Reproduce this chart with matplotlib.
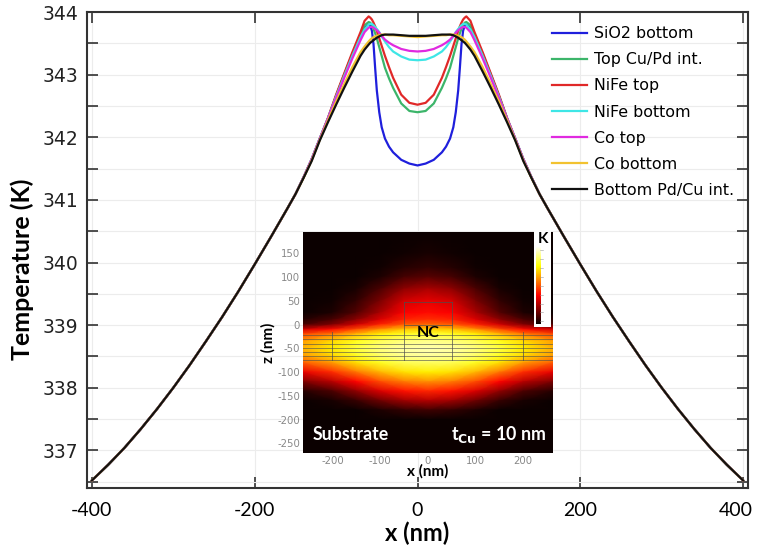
import numpy as np
import matplotlib
matplotlib.use("Agg")
import matplotlib.pyplot as plt
from matplotlib.ticker import MultipleLocator
from matplotlib.transforms import ScaledTranslation

plt.rcParams["axes.unicode_minus"] = False

# ---- temperature profiles (symmetric about x = 0, half profile given) ----
inner_x = [0, 10, 20, 30, 35, 40, 44, 47, 50, 52, 54, 56, 58, 60, 65, 70,
           80, 90, 100, 110, 120, 130, 140]
outer_x = [150, 160, 180, 200, 220, 240, 260, 280, 300, 320, 340, 360, 380,
           400]
outer_T = [341.09, 340.86, 340.41, 339.97, 339.54, 339.13, 338.74, 338.36,
           338.00, 337.66, 337.34, 337.04, 336.77, 336.52]

sio2_bottom = [341.55, 341.58, 341.64, 341.76, 341.85, 341.98, 342.16, 342.40,
               342.75, 343.10, 343.48, 343.70, 343.78, 343.80, 343.75, 343.63,
               343.33, 343.00, 342.66, 342.30, 341.98, 341.65, 341.36]
top_cupd = [342.40, 342.42, 342.54, 342.79, 342.94, 343.11, 343.30, 343.44,
            343.58, 343.66, 343.73, 343.79, 343.83, 343.84, 343.79, 343.64,
            343.33, 343.00, 342.66, 342.30, 341.98, 341.65, 341.36]
nife_top = [342.52, 342.55, 342.68, 342.95, 343.12, 343.30, 343.46, 343.58,
            343.70, 343.77, 343.83, 343.88, 343.91, 343.93, 343.86, 343.68,
            343.36, 343.02, 342.68, 342.31, 341.98, 341.65, 341.36]
nife_bottom = [343.23, 343.24, 343.29, 343.37, 343.44, 343.53, 343.61, 343.68,
               343.73, 343.76, 343.79, 343.81, 343.81, 343.80, 343.72, 343.60,
               343.30, 342.98, 342.65, 342.30, 341.98, 341.65, 341.36]
co_top = [343.37, 343.38, 343.41, 343.47, 343.51, 343.56, 343.62, 343.67,
          343.71, 343.73, 343.75, 343.76, 343.76, 343.75, 343.68, 343.55,
          343.26, 342.95, 342.63, 342.30, 341.98, 341.65, 341.36]
co_bottom = [343.60, 343.61, 343.62, 343.63, 343.63, 343.64, 343.64, 343.63,
             343.62, 343.61, 343.60, 343.58, 343.56, 343.53, 343.45, 343.36,
             343.12, 342.85, 342.57, 342.27, 341.96, 341.63, 341.35]
bottom_pdcu = [343.62, 343.62, 343.63, 343.64, 343.64, 343.64, 343.63, 343.61,
               343.59, 343.57, 343.55, 343.53, 343.51, 343.48, 343.40, 343.30,
               343.05, 342.79, 342.52, 342.24, 341.95, 341.62, 341.35]

labels = ["SiO2 bottom", "Top Cu/Pd int.", "NiFe top", "NiFe bottom",
          "Co top", "Co bottom", "Bottom Pd/Cu int."]
colors = ["#1f1fdc", "#3cb56a", "#e02828", "#3ee6e6", "#e02ae0",
          "#f2c230", "#111111"]
series = [sio2_bottom, top_cupd, nife_top, nife_bottom, co_top, co_bottom,
          bottom_pdcu]

# ---- inset heat map (0 = black, 1 = white) ----
map_x = [0, 50, 100, 150, 200, 262]
map_z = [195, 150, 120, 100, 75, 50, 25, 10, 0, -10, -20, -35, -50, -65,
         -80, -100, -120, -140, -160, -180, -200, -270]
map_v = [
    [0.00, 0.00, 0.00, 0.00, 0.00, 0.00],
    [0.02, 0.01, 0.00, 0.00, 0.00, 0.00],
    [0.06, 0.04, 0.01, 0.00, 0.00, 0.00],
    [0.12, 0.09, 0.03, 0.00, 0.00, 0.00],
    [0.24, 0.20, 0.10, 0.02, 0.00, 0.00],
    [0.33, 0.30, 0.17, 0.06, 0.01, 0.00],
    [0.38, 0.36, 0.24, 0.11, 0.03, 0.00],
    [0.44, 0.42, 0.32, 0.20, 0.10, 0.04],
    [0.52, 0.50, 0.42, 0.30, 0.18, 0.10],
    [0.68, 0.66, 0.58, 0.48, 0.38, 0.30],
    [0.80, 0.78, 0.72, 0.64, 0.55, 0.47],
    [0.88, 0.87, 0.83, 0.77, 0.69, 0.60],
    [0.92, 0.91, 0.87, 0.81, 0.72, 0.63],
    [0.90, 0.89, 0.85, 0.78, 0.69, 0.60],
    [0.84, 0.83, 0.78, 0.70, 0.60, 0.50],
    [0.72, 0.70, 0.64, 0.54, 0.43, 0.33],
    [0.58, 0.55, 0.48, 0.37, 0.26, 0.17],
    [0.42, 0.39, 0.31, 0.20, 0.10, 0.04],
    [0.25, 0.22, 0.15, 0.07, 0.02, 0.00],
    [0.08, 0.06, 0.03, 0.00, 0.00, 0.00],
    [0.00, 0.00, 0.00, 0.00, 0.00, 0.00],
    [0.00, 0.00, 0.00, 0.00, 0.00, 0.00],
]
layer_z = [-22, -30, -40, -49, -58, -66, -75]


def mirror(xs, ys):
    xs = np.asarray(xs, float)
    ys = np.asarray(ys, float)
    return (np.concatenate([-xs[:0:-1], xs]),
            np.concatenate([ys[:0:-1], ys]))


fig = plt.figure(figsize=(7.58, 5.47), dpi=100)
ax = fig.add_axes([0.1148, 0.108, 0.872, 0.870])

half_x = inner_x + outer_x
for lab, col, vals in zip(labels, colors, series):
    xx, tt = mirror(half_x, list(vals) + outer_T)
    ax.plot(xx, tt, color=col, lw=1.6, label=lab)

ax.set_xlim(-406, 406)
ax.set_ylim(336.4, 344.0)
ax.set_xticks([-400, -200, 0, 200, 400])
ax.yaxis.set_major_locator(MultipleLocator(1))
ax.yaxis.set_minor_locator(MultipleLocator(0.5))
ax.grid(True, which="major", color="#ececec", lw=0.8)
ax.grid(True, which="minor", axis="y", color="#ececec", lw=0.8)
ax.set_axisbelow(True)
ax.tick_params(which="both", direction="in", length=8, width=1.2,
               top=True, right=True, color="#333333")
ax.tick_params(axis="y", labelsize=13.5, pad=6, labelcolor="#222222")
ax.tick_params(axis="x", labelsize=14, pad=10)
for t in ax.get_xticklabels():
    t.set_fontfamily("Lato")
# keep the last x label inside the canvas
last = ax.get_xticklabels()[-1]
last.set_transform(last.get_transform()
                   + ScaledTranslation(-5 / 72, 0, fig.dpi_scale_trans))
for sp in ax.spines.values():
    sp.set_linewidth(1.5)
    sp.set_color("#333333")

ax.set_xlabel("x (nm)", fontsize=17, fontweight="bold", family="Lato",
              labelpad=2)
ax.set_ylabel("Temperature (K)", fontsize=18, fontweight="bold",
              family="Lato")
ax.yaxis.set_label_coords(-0.08, 0.46)

ax.legend(loc="upper left", bbox_to_anchor=(0.728, 0.952),
          bbox_transform=fig.transFigure, frameon=False, fontsize=11.4,
          handlelength=2.2, handletextpad=0.45, labelspacing=0.7,
          borderpad=0, borderaxespad=0)

# ---- inset ----
ins = fig.add_axes([0.3995, 0.172, 0.3298, 0.404])
mx, _ = mirror(map_x, map_x)
V = np.array(map_v)
V = np.concatenate([V[:, :0:-1], V], axis=1)
X, Z = np.meshgrid(mx, map_z)
ins.pcolormesh(X, Z, V, cmap="hot", vmin=0, vmax=1, shading="gouraud")
ins.set_xlim(-262, 262)
ins.set_ylim(-270, 195)

lc = (0.3, 0.3, 0.3, 0.7)
for zz in layer_z:
    ins.plot([-262, 262], [zz, zz], color=lc, lw=0.6)
for xv in (-200, 200):
    ins.plot([xv, xv], [-15, -75], color=lc, lw=0.7)
for xv in (-50, 50):
    ins.plot([xv, xv], [48, -75], color=lc, lw=0.7)
ins.plot([-50, 50], [48, 48], color=lc, lw=0.7)
ins.plot([-50, 50], [0, 0], color=lc, lw=0.7)

ins.text(0, -17, "NC", ha="center", va="center", fontsize=11.5,
         fontweight="bold", family="Lato", color="black")
ins.text(-242, -232, "Substrate", ha="left", va="center", fontsize=12.8,
         fontweight="bold", family="Lato", color="white")
ins.text(247, -232, r"t$_{\mathbf{Cu}}$ = 10 nm", ha="right", va="center",
         fontsize=12.8, fontweight="bold", family="Lato", color="white")

ins.set_xticks([-200, -100, 0, 100, 200])
ins.set_yticks([150, 100, 50, 0, -50, -100, -150, -200, -250])
ins.tick_params(length=0, labelsize=7.3, labelcolor="#888888", pad=2)
for sp in ins.spines.values():
    sp.set_visible(False)
ins.set_xlabel("x (nm)", fontsize=11, fontweight="bold", family="Lato",
               labelpad=-1)
ins.set_ylabel("z (nm)", fontsize=11, fontweight="bold", family="Lato",
               labelpad=1)

# small colour legend box
cb = fig.add_axes([0.7045, 0.402, 0.0224, 0.1755])
cb.set_facecolor("white")
cb.set_xlim(0, 1)
cb.set_ylim(0, 1)
cb.imshow(np.linspace(1, 0, 100)[:, None], extent=(0.12, 0.36, 0.03, 0.84),
          cmap="hot", aspect="auto")
for yy in np.linspace(0.06, 0.80, 9):
    cb.plot([0.36, 0.5], [yy, yy], color="#999999", lw=0.4)
cb.text(0.55, 0.99, "K", ha="center", va="top", fontsize=11,
        fontweight="bold", family="Lato")
cb.set_xticks([])
cb.set_yticks([])
for sp in cb.spines.values():
    sp.set_visible(False)

fig.savefig("out.png", dpi=100)
